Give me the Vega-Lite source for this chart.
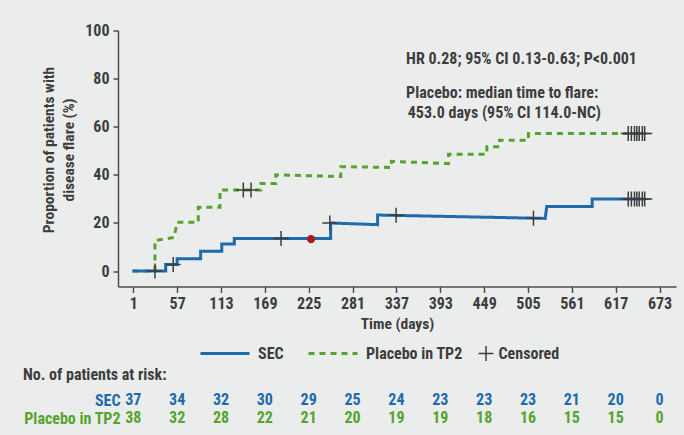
{
  "$schema": "https://vega.github.io/schema/vega-lite/v6.json",
  "background": "#ebeded",
  "padding": {"left": 23, "top": 22.5, "right": 8, "bottom": 14},
  "spacing": 34.5,
  "config": {
    "font": "Roboto Condensed, Liberation Sans Narrow, DejaVu Sans Condensed, Roboto, sans-serif",
    "view": {"stroke": null},
    "axis": {
      "grid": false,
      "labelFontSize": 16,
      "labelFontWeight": "bold",
      "labelColor": "#3d3d3d",
      "titleFontSize": 15.5,
      "titleFontWeight": "bold",
      "titleColor": "#3d3d3d",
      "domainColor": "#4d4d4d",
      "tickColor": "#4d4d4d",
      "domainWidth": 1.5,
      "tickWidth": 1.5
    }
  },
  "datasets": {
    "curves": [
      {"arm": "Placebo in TP2", "i": 0, "day": 0, "pct": 0},
      {"arm": "Placebo in TP2", "i": 1, "day": 28.7, "pct": 0},
      {"arm": "Placebo in TP2", "i": 2, "day": 28.7, "pct": 12.7},
      {"arm": "Placebo in TP2", "i": 3, "day": 53, "pct": 14},
      {"arm": "Placebo in TP2", "i": 4, "day": 57, "pct": 20.3},
      {"arm": "Placebo in TP2", "i": 5, "day": 84, "pct": 20.3},
      {"arm": "Placebo in TP2", "i": 6, "day": 84, "pct": 26.5},
      {"arm": "Placebo in TP2", "i": 7, "day": 111.7, "pct": 26.5},
      {"arm": "Placebo in TP2", "i": 8, "day": 111.7, "pct": 33.7},
      {"arm": "Placebo in TP2", "i": 9, "day": 164, "pct": 33.7},
      {"arm": "Placebo in TP2", "i": 10, "day": 164, "pct": 36.4},
      {"arm": "Placebo in TP2", "i": 11, "day": 183, "pct": 36.4},
      {"arm": "Placebo in TP2", "i": 12, "day": 183, "pct": 40},
      {"arm": "Placebo in TP2", "i": 13, "day": 266, "pct": 39.3},
      {"arm": "Placebo in TP2", "i": 14, "day": 266, "pct": 43.4},
      {"arm": "Placebo in TP2", "i": 15, "day": 330.5, "pct": 43.1},
      {"arm": "Placebo in TP2", "i": 16, "day": 330.5, "pct": 45.6},
      {"arm": "Placebo in TP2", "i": 17, "day": 403.5, "pct": 44.7},
      {"arm": "Placebo in TP2", "i": 18, "day": 403.5, "pct": 48.6},
      {"arm": "Placebo in TP2", "i": 19, "day": 452.5, "pct": 48.6},
      {"arm": "Placebo in TP2", "i": 20, "day": 452.5, "pct": 51.7},
      {"arm": "Placebo in TP2", "i": 21, "day": 468.6, "pct": 51.7},
      {"arm": "Placebo in TP2", "i": 22, "day": 468.6, "pct": 54.4},
      {"arm": "Placebo in TP2", "i": 23, "day": 505.6, "pct": 54.4},
      {"arm": "Placebo in TP2", "i": 24, "day": 505.6, "pct": 57.2},
      {"arm": "Placebo in TP2", "i": 25, "day": 655, "pct": 57.2},
      {"arm": "SEC", "i": 0, "day": 0, "pct": 0},
      {"arm": "SEC", "i": 1, "day": 42.4, "pct": 0},
      {"arm": "SEC", "i": 2, "day": 42.4, "pct": 2.7},
      {"arm": "SEC", "i": 3, "day": 57, "pct": 2.7},
      {"arm": "SEC", "i": 4, "day": 57, "pct": 5.1},
      {"arm": "SEC", "i": 5, "day": 87, "pct": 5.1},
      {"arm": "SEC", "i": 6, "day": 87, "pct": 8.2},
      {"arm": "SEC", "i": 7, "day": 114, "pct": 8.2},
      {"arm": "SEC", "i": 8, "day": 114, "pct": 11.3},
      {"arm": "SEC", "i": 9, "day": 130, "pct": 11.3},
      {"arm": "SEC", "i": 10, "day": 130, "pct": 13.5},
      {"arm": "SEC", "i": 11, "day": 253, "pct": 13.5},
      {"arm": "SEC", "i": 12, "day": 253, "pct": 20},
      {"arm": "SEC", "i": 13, "day": 313, "pct": 19.3},
      {"arm": "SEC", "i": 14, "day": 313, "pct": 23.3},
      {"arm": "SEC", "i": 15, "day": 527, "pct": 21.9},
      {"arm": "SEC", "i": 16, "day": 529, "pct": 26.9},
      {"arm": "SEC", "i": 17, "day": 587, "pct": 26.9},
      {"arm": "SEC", "i": 18, "day": 587, "pct": 30},
      {"arm": "SEC", "i": 19, "day": 655, "pct": 30}
    ],
    "censors": [
      {"arm": "SEC", "day": 28.7, "pct": 0},
      {"arm": "SEC", "day": 52, "pct": 2.7},
      {"arm": "SEC", "day": 189.7, "pct": 13.5},
      {"arm": "SEC", "day": 252, "pct": 20},
      {"arm": "SEC", "day": 336.6, "pct": 23.2},
      {"arm": "SEC", "day": 512, "pct": 22},
      {"arm": "SEC", "day": 633, "pct": 30},
      {"arm": "SEC", "day": 637, "pct": 30},
      {"arm": "SEC", "day": 641, "pct": 30},
      {"arm": "SEC", "day": 644, "pct": 30},
      {"arm": "SEC", "day": 647, "pct": 30},
      {"arm": "SEC", "day": 651, "pct": 30},
      {"arm": "SEC", "day": 654, "pct": 30},
      {"arm": "Placebo in TP2", "day": 141.5, "pct": 33.7},
      {"arm": "Placebo in TP2", "day": 151.4, "pct": 33.7},
      {"arm": "Placebo in TP2", "day": 633, "pct": 57.2},
      {"arm": "Placebo in TP2", "day": 637, "pct": 57.2},
      {"arm": "Placebo in TP2", "day": 641, "pct": 57.2},
      {"arm": "Placebo in TP2", "day": 644, "pct": 57.2},
      {"arm": "Placebo in TP2", "day": 647, "pct": 57.2},
      {"arm": "Placebo in TP2", "day": 651, "pct": 57.2},
      {"arm": "Placebo in TP2", "day": 654, "pct": 57.2}
    ],
    "highlight": [
      {"day": 228, "pct": 13.3}
    ],
    "notes": [
      {"label": "HR 0.28; 95% CI 0.13-0.63; P<0.001", "day": 349.4, "pct": 88.2},
      {"label": "Placebo: median time to flare:", "day": 349.4, "pct": 74.1},
      {"label": "453.0 days (95% CI 114.0-NC)", "day": 351.5, "pct": 65.8}
    ],
    "risk": [
      {"arm": "SEC", "day": 1, "n": 37},
      {"arm": "SEC", "day": 57, "n": 34},
      {"arm": "SEC", "day": 113, "n": 32},
      {"arm": "SEC", "day": 169, "n": 30},
      {"arm": "SEC", "day": 225, "n": 29},
      {"arm": "SEC", "day": 281, "n": 25},
      {"arm": "SEC", "day": 337, "n": 24},
      {"arm": "SEC", "day": 393, "n": 23},
      {"arm": "SEC", "day": 449, "n": 23},
      {"arm": "SEC", "day": 505, "n": 23},
      {"arm": "SEC", "day": 561, "n": 21},
      {"arm": "SEC", "day": 617, "n": 20},
      {"arm": "SEC", "day": 673, "n": 0},
      {"arm": "Placebo in TP2", "day": 1, "n": 38},
      {"arm": "Placebo in TP2", "day": 57, "n": 32},
      {"arm": "Placebo in TP2", "day": 113, "n": 28},
      {"arm": "Placebo in TP2", "day": 169, "n": 22},
      {"arm": "Placebo in TP2", "day": 225, "n": 21},
      {"arm": "Placebo in TP2", "day": 281, "n": 20},
      {"arm": "Placebo in TP2", "day": 337, "n": 19},
      {"arm": "Placebo in TP2", "day": 393, "n": 19},
      {"arm": "Placebo in TP2", "day": 449, "n": 18},
      {"arm": "Placebo in TP2", "day": 505, "n": 16},
      {"arm": "Placebo in TP2", "day": 561, "n": 15},
      {"arm": "Placebo in TP2", "day": 617, "n": 15},
      {"arm": "Placebo in TP2", "day": 673, "n": 0}
    ]
  },
  "vconcat": [
    {
      "width": 558,
      "height": 256,
      "layer": [
        {
          "data": {"name": "curves"},
          "mark": {"type": "line", "strokeWidth": 3, "interpolate": "linear"},
          "encoding": {
            "x": {
              "field": "day", "type": "quantitative",
              "scale": {"domain": [-18.5, 694], "nice": false, "zero": false},
              "axis": {
                "values": [1, 57, 113, 169, 225, 281, 337, 393, 449, 505, 561, 617, 673],
                "title": "Time (days)",
                "tickSize": 6,
                "labelPadding": 3,
                "titlePadding": 5,
                "labelFlush": false,
                "labelOverlap": false
              }
            },
            "y": {
              "field": "pct", "type": "quantitative",
              "scale": {"domain": [-6.4, 100], "nice": false, "zero": false},
              "axis": {
                "values": [0, 20, 40, 60, 80, 100],
                "title": ["Proportion of patients with", "disease flare (%)"],
                "tickSize": 5,
                "labelPadding": 4,
                "titlePadding": 8,
                "titleLineHeight": 20,
                "titleY": 119,
                "labelFlush": false
              }
            },
            "color": {
              "field": "arm", "type": "nominal",
              "scale": {"domain": ["SEC", "Placebo in TP2"], "range": ["#1d6aad", "#56a32d"]},
              "legend": {
                "title": null, "orient": "none", "legendX": 81, "legendY": 315,
                "direction": "horizontal", "padding": 0,
                "symbolType": "stroke", "symbolSize": 2401, "symbolStrokeWidth": 3,
                "clipHeight": 16, "columnPadding": 23, "labelOffset": 7,
                "labelFontSize": 16, "labelFontWeight": "bold", "labelColor": "#3d3d3d"
              }
            },
            "strokeDash": {
              "field": "arm", "type": "nominal",
              "scale": {"domain": ["SEC", "Placebo in TP2"], "range": [[1, 0], [6, 5]]},
              "legend": {
                "title": null, "orient": "none", "legendX": 81, "legendY": 315,
                "direction": "horizontal", "padding": 0,
                "symbolType": "stroke", "symbolSize": 2401, "symbolStrokeWidth": 3,
                "clipHeight": 16, "columnPadding": 23, "labelOffset": 7,
                "labelFontSize": 16, "labelFontWeight": "bold", "labelColor": "#3d3d3d"
              }
            },
            "order": {"field": "i", "type": "quantitative"}
          }
        },
        {
          "data": {"name": "censors"},
          "mark": {"type": "point", "filled": false, "color": "#3d3d3d", "strokeWidth": 1.5, "size": 225, "opacity": 1},
          "encoding": {
            "x": {"field": "day", "type": "quantitative"},
            "y": {"field": "pct", "type": "quantitative"},
            "shape": {
              "datum": "Censored", "type": "nominal",
              "scale": {"domain": ["Censored"], "range": ["M-1,0H1M0,-1V1"]},
              "legend": {
                "title": null, "orient": "none", "legendX": 359.5, "legendY": 315, "padding": 0,
                "symbolStrokeColor": "#3d3d3d", "symbolStrokeWidth": 1.5, "symbolSize": 225,
                "symbolFillColor": "transparent",
                "clipHeight": 16, "labelOffset": 4,
                "labelFontSize": 16, "labelFontWeight": "bold", "labelColor": "#3d3d3d"
              }
            }
          }
        },
        {
          "data": {"name": "highlight"},
          "mark": {"type": "point", "filled": true, "color": "#a51c1c", "size": 70, "opacity": 1},
          "encoding": {
            "x": {"field": "day", "type": "quantitative"},
            "y": {"field": "pct", "type": "quantitative"}
          }
        },
        {
          "data": {"name": "notes"},
          "mark": {"type": "text", "align": "left", "baseline": "middle", "fontSize": 16, "fontWeight": "bold", "color": "#3d3d3d"},
          "encoding": {
            "x": {"field": "day", "type": "quantitative"},
            "y": {"field": "pct", "type": "quantitative"},
            "text": {"field": "label"}
          }
        }
      ]
    },
    {
      "width": 558,
      "height": 36,
      "title": {
        "text": "No. of patients at risk:", "anchor": "start", "frame": "group", "dx": -95,
        "fontSize": 16, "fontWeight": "bold", "color": "#3d3d3d", "offset": 8
      },
      "data": {"name": "risk"},
      "encoding": {
        "x": {
          "field": "day", "type": "quantitative",
          "scale": {"domain": [-18.5, 694], "nice": false, "zero": false},
          "axis": null
        },
        "y": {
          "field": "arm", "type": "nominal", "sort": ["SEC", "Placebo in TP2"],
          "axis": {
            "title": null, "domain": false, "ticks": false, "labelPadding": -2,
            "labelFontSize": 16, "labelFontWeight": "bold",
            "labelColor": {"condition": {"test": "datum.value === 'SEC'", "value": "#1d6aad"}, "value": "#56a32d"}
          }
        },
        "text": {"field": "n", "type": "quantitative"}
      },
      "layer": [
        {
          "transform": [{"filter": "datum.arm === 'SEC'"}],
          "mark": {"type": "text", "fontSize": 16, "fontWeight": "bold", "color": "#1d6aad", "baseline": "middle"}
        },
        {
          "transform": [{"filter": "datum.arm !== 'SEC'"}],
          "mark": {"type": "text", "fontSize": 16, "fontWeight": "bold", "color": "#56a32d", "baseline": "middle"}
        }
      ]
    }
  ]
}
